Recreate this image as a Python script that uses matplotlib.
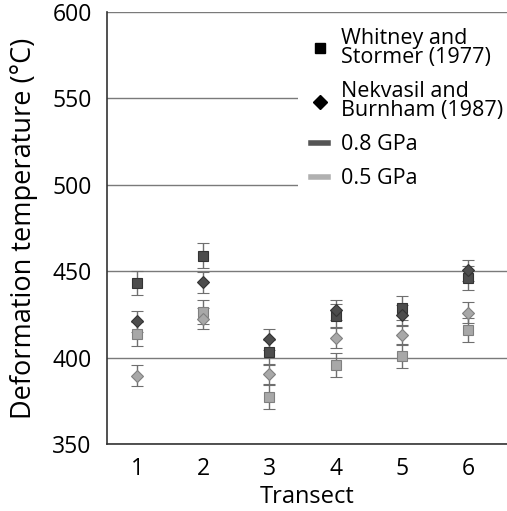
import matplotlib
matplotlib.use("Agg")
import matplotlib.pyplot as plt
from matplotlib.lines import Line2D

plt.rcParams['font.family'] = ['Open Sans', 'DejaVu Sans']

transects = [1, 2, 3, 4, 5, 6]
ws_08 = [443, 459, 403, 424, 428.5, 446]      # Whitney & Stormer, 0.8 GPa
nb_08 = [421, 443.5, 410.5, 427.5, 424.5, 450.5]  # Nekvasil & Burnham, 0.8 GPa
ws_05 = [413.5, 426.5, 377, 395.5, 401, 416]  # Whitney & Stormer, 0.5 GPa
nb_05 = [389.5, 422.5, 390.5, 411.5, 413, 426]  # Nekvasil & Burnham, 0.5 GPa
err_ws = [7, 7, 7, 7, 7, 7]
err_nb = [6, 6, 6, 6, 6, 6]

dark = '#4d4d4d'
light = '#a8a8a8'
errc = '#6f6f6f'

fig = plt.figure(figsize=(5.07, 5.11), dpi=100)
ax = fig.add_axes([0.211, 0.131, 0.789, 0.846])

for vals, errs, mk, fc, ec, ms in [
    (ws_05, err_ws, 's', light, '#808080', 7),
    (nb_05, err_nb, 'D', light, '#808080', 6.5),
    (ws_08, err_ws, 's', dark, '#333333', 7),
    (nb_08, err_nb, 'D', dark, '#333333', 6.5),
]:
    ax.errorbar(transects, vals, yerr=errs, fmt=mk, ms=ms, mfc=fc, mec=ec,
                mew=0.8, ecolor=errc, elinewidth=1.0, capsize=4, capthick=1.0,
                zorder=3)

ax.set_xlim(0.547, 6.59)
ax.set_ylim(350, 600)
ax.set_yticks([350, 400, 450, 500, 550, 600])
ax.set_xticks(transects)
ax.yaxis.grid(True, color='#7a7a7a', linewidth=1.0)
ax.set_axisbelow(True)
for s in ['top', 'right']:
    ax.spines[s].set_visible(False)
for s in ['left', 'bottom']:
    ax.spines[s].set_color('#333333')
    ax.spines[s].set_linewidth(1.2)
ax.tick_params(axis='y', length=0, labelsize=16.5, pad=11)
ax.tick_params(axis='x', length=0, labelsize=16.5, pad=9)
ax.set_xlabel('Transect', fontsize=17, labelpad=3)
ax.set_ylabel('Deformation temperature (°C)', fontsize=19.5, labelpad=10)

handles = [
    Line2D([], [], marker='s', color='black', ls='none', ms=7),
    Line2D([], [], marker='D', color='black', ls='none', ms=7),
    Line2D([], [], color='#555555', lw=4),
    Line2D([], [], color='#b0b0b0', lw=4),
]
labels = ['Whitney and\nStormer (1977)', 'Nekvasil and\nBurnham (1987)',
          '0.8 GPa', '0.5 GPa']
leg = ax.legend(handles, labels, loc='upper left', bbox_to_anchor=(0.4775, 0.993),
                fontsize=15.5, frameon=True, facecolor='white', edgecolor='none',
                framealpha=1, handlelength=0.8, handletextpad=0.6,
                labelspacing=0.6, borderpad=0.6, borderaxespad=0)
for t in leg.get_texts():
    t.set_linespacing(0.9)

fig.savefig('out.png', dpi=100)
